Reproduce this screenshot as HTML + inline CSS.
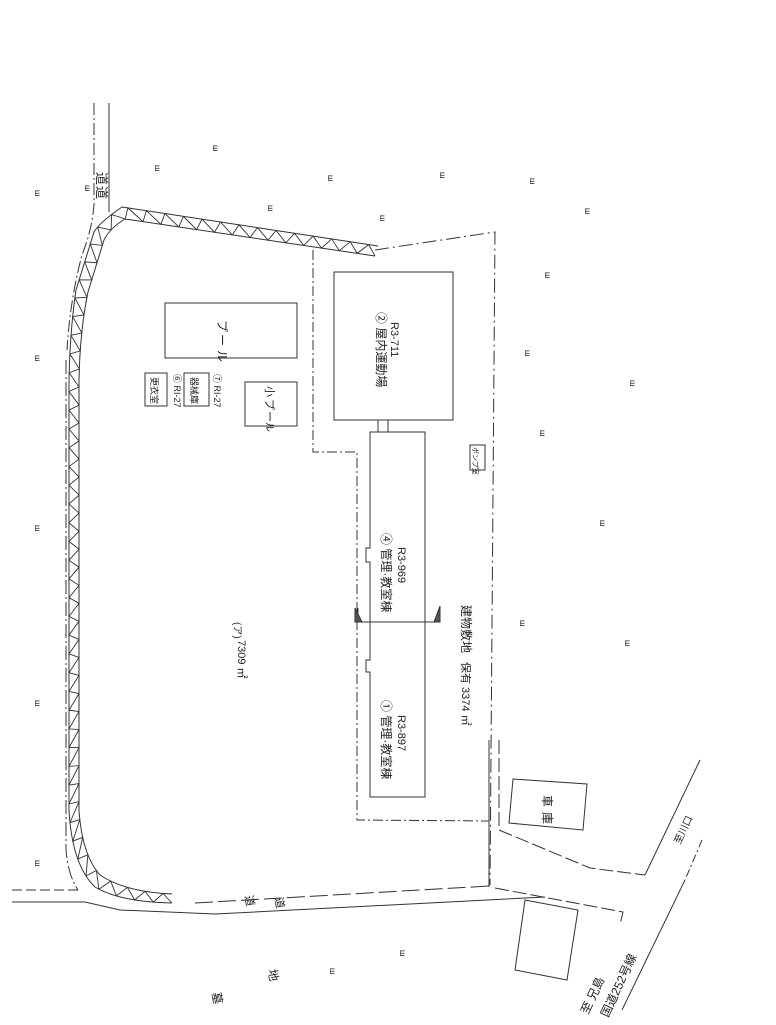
<!DOCTYPE html>
<html><head><meta charset="utf-8"><style>
html,body{margin:0;padding:0;background:#fff;}
svg{display:block}
text{font-family:"Liberation Sans","Noto Sans CJK JP",sans-serif;fill:#222;}
</style></head><body>
<svg id="s" width="776" height="1025" viewBox="0 0 776 1025" xmlns="http://www.w3.org/2000/svg" fill="none" stroke="#333" stroke-width="1">
<path d="M94,103 L94,205 Q92,230 82,255 Q70,300 67,350" stroke-dasharray="12,3,2,3"/>
<path d="M109,103 L109,212"/>
<path d="M66,360 L66,850 Q68,875 78,890" stroke-dasharray="14,3,2,3"/>
<path d="M12,890 L78,890" stroke-dasharray="10,4"/>
<path d="M12,902 L85,902 L120,910 L215,914 L545,897"/>
<path d="M195,903 L489,886" stroke-dasharray="18,5"/>
<path id="bandIn" d="M375,256 L125,219 Q110,228 104,240 L88,292 Q80,330 79,380 L79,810 Q82,855 100,875 Q125,892 172,894"/>
<path id="bandOut" d="M378,246 L122,207 Q100,222 94,232 L76,290 Q70,330 69,380 L69,810 Q72,865 95,887 Q120,902 172,903"/>
<g id="zig" stroke-width="0.9"></g>
<path d="M375,250 L495,232 L490,885" stroke-dasharray="14,4,2,4"/>
<path d="M489,740 L489,887" />
<path d="M313,250 L313,452 L357,452 L357,820 L489,821" stroke-dasharray="10,3,2,3"/>
<path d="M499,740 L499,830 L590,868 L645,875" stroke-dasharray="14,4"/>
<path d="M645,875 L700,760"/>
<path d="M495,888 L623,912 L620,925" stroke-dasharray="14,4"/>
<path d="M702,840 L685,880" stroke-dasharray="8,3,2,3"/>
<path d="M685,880 L622,1010"/>
<rect x="334" y="272" width="119" height="148"/>
<rect x="378" y="420" width="10" height="12"/>
<path d="M370,432 L425,432 L425,797 L370,797 L370,672 L366,672 L366,660 L370,660 L370,562 L366,562 L366,548 L370,548 Z"/>
<path d="M355,622 L440,622 M358,608 L358,622 M440,608 L440,622"/>
<path d="M355,608 L362,622 L355,622 Z M440,606 L434,622 L440,622 Z" fill="#555"/>
<rect x="165" y="303" width="132" height="55"/>
<rect x="245" y="382" width="52" height="44"/>
<rect x="145" y="373" width="22" height="33"/>
<rect x="184" y="373" width="25" height="33"/>
<rect x="470" y="445" width="15" height="25"/>
<path d="M513,779 L587,784 L583,830 L509,823 Z"/>
<path d="M525,900 L578,910 L567,980 L515,970 Z" />
<g stroke="none">
<text transform="translate(97,172) rotate(90)" font-size="13">道</text>
<text transform="translate(97,186) rotate(90)" font-size="13">道</text>
<text transform="translate(218,320) rotate(90)" font-size="12">プ</text>
<text transform="translate(218,334) rotate(90)" font-size="12">ー</text>
<text transform="translate(218,350) rotate(90)" font-size="12">ル</text>
<text transform="translate(266,386) rotate(90)" font-size="11">小</text>
<text transform="translate(266,399) rotate(90)" font-size="11">プ</text>
<text transform="translate(266,411) rotate(90)" font-size="11">ー</text>
<text transform="translate(266,422) rotate(90)" font-size="10">ル</text>
<text transform="translate(151,377) rotate(90)" font-size="9">更衣室</text>
<text transform="translate(191,377) rotate(90)" font-size="9">器械庫</text>
<text transform="translate(174,374) rotate(90)" font-size="9">⑥ RI-27</text>
<text transform="translate(214,374) rotate(90)" font-size="9">⑦ RI-27</text>
<text transform="translate(377,312) rotate(90)" font-size="12">② 屋内運動場</text>
<text transform="translate(391,322) rotate(90)" font-size="11">R3-711</text>
<text transform="translate(382,533) rotate(90)" font-size="12">④ 管理·教室棟</text>
<text transform="translate(398,547) rotate(90)" font-size="11">R3-969</text>
<text transform="translate(382,700) rotate(90)" font-size="12">① 管理·教室棟</text>
<text transform="translate(398,715) rotate(90)" font-size="11">R3-897</text>
<text transform="translate(473,447) rotate(90)" font-size="7">ポンプ室</text>
<text transform="translate(462,605) rotate(90)" font-size="12">建物敷地</text>
<text transform="translate(462,662) rotate(90)" font-size="11">保有 3374 ㎡</text>
<text transform="translate(234,622) rotate(90)" font-size="10">(ア)</text>
<text transform="translate(238,640) rotate(90)" font-size="11">7309 ㎡</text>
<text transform="translate(543,795) rotate(90)" font-size="12">車</text>
<text transform="translate(543,812) rotate(90)" font-size="12">庫</text>
<text transform="translate(245,896) rotate(80)" font-size="11">道</text>
<text transform="translate(275,898) rotate(80)" font-size="11">道</text>
<text transform="translate(212,993) rotate(80)" font-size="12">墓</text>
<text transform="translate(268,970) rotate(80)" font-size="12">地</text>
<text transform="translate(588,1015) rotate(-65)" font-size="12">至 兄島</text>
<text transform="translate(608,1018) rotate(-65)" font-size="12">国道252号線</text>
<text transform="translate(680,845) rotate(-65)" font-size="10">至川口</text>
</g>
<g stroke="none" font-size="8" id="marks"></g>
</svg>
<script>
(function(){
var ns="http://www.w3.org/2000/svg";
var a=document.getElementById('bandIn'),b=document.getElementById('bandOut');
var la=a.getTotalLength(),lb=b.getTotalLength();
var n=Math.floor(la/9),d="";
for(var i=0;i<=n;i++){var t=i/n;var p=(i%2?b.getPointAtLength(t*lb):a.getPointAtLength(t*la));d+=(i?"L":"M")+p.x.toFixed(1)+","+p.y.toFixed(1);}
var z=document.createElementNS(ns,'path');z.setAttribute('d',d);document.getElementById('zig').appendChild(z);
var m=[[85,185],[155,165],[213,145],[268,205],[328,175],[380,215],[440,172],[530,178],[585,208],[545,272],[525,350],[630,380],[540,430],[600,520],[520,620],[625,640],[35,355],[35,525],[35,700],[35,860],[400,950],[330,968],[35,190]];
var g=document.getElementById('marks');
m.forEach(function(q){var t=document.createElementNS(ns,'text');t.setAttribute('x',q[0]);t.setAttribute('y',q[1]);t.setAttribute('transform','rotate(90 '+q[0]+' '+q[1]+')');t.textContent='ш';g.appendChild(t);});
})();
</script>
</body></html>
